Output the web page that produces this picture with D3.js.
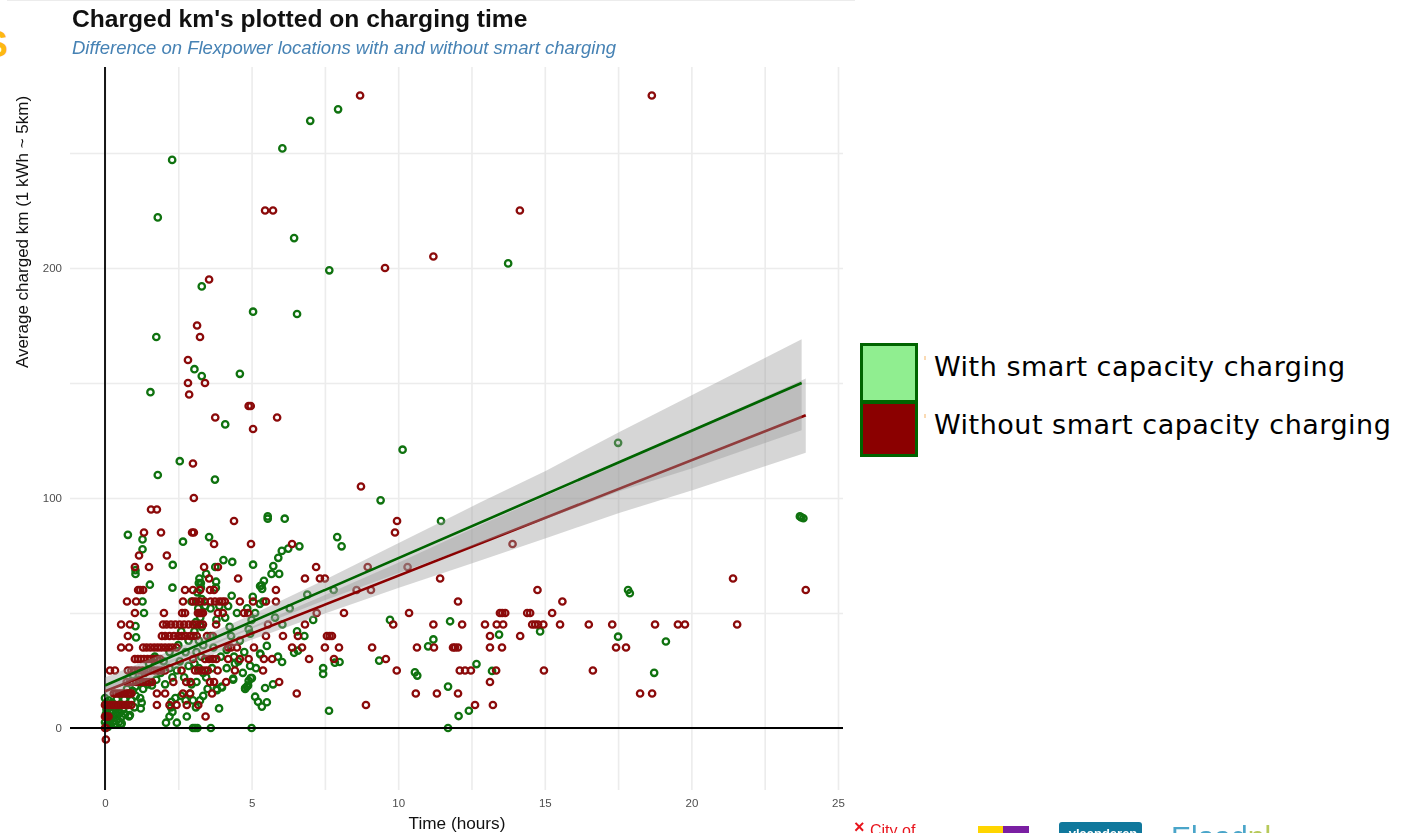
<!DOCTYPE html>
<html>
<head>
<meta charset="utf-8">
<script src="https://cdn.jsdelivr.net/npm/d3@7"></script>
<style>
    html, body { margin: 0; padding: 0; background: #fff; overflow: hidden; }
    svg { display: block; }
    .tick text { font-family: "Liberation Sans", Arial, sans-serif; font-size: 11.5px; fill: #4d4d4d; }
</style>
</head>
<body>
<svg id="chart" width="1404" height="833"></svg>
<script>
const titleText = "Charged km's plotted on charging time";
const subtitleText = "Difference on Flexpower locations with and without smart charging";
const xLabel = "Time (hours)";
const yLabel = "Average charged km (1 kWh ~ 5km)";
const legendLabels = ["With smart capacity charging", "Without smart capacity charging"];

const xTicks = [0, 5, 10, 15, 20, 25];
const yTicks = [0, 100, 200];
const xGrid = [0, 2.5, 5, 7.5, 10, 12.5, 15, 17.5, 20, 22.5, 25];
const yGrid = [0, 50, 100, 150, 200, 250];

// [hours, km]
const greenPoints = [
    [2.29,247],[1.8,222],[6.05,252],[7.0,264],[7.95,269],[6.45,213],[7.65,199],[13.75,202],[3.3,192],[5.05,181],
    [6.55,180],[1.75,170],[3.05,156],[3.3,153],[4.6,154],[1.55,146],[4.1,132],[10.15,121],[17.5,124],[2.55,116],
    [1.8,110],[3.75,108],[9.4,99],[11.46,90],[5.55,92],[5.55,91],[6.13,91],[23.7,92],[23.75,91.6],[23.82,91.2],
    [0.78,84],[1.28,82],[1.28,77.7],[1.04,68.6],[1.04,67],[1.53,62.3],[2.31,70.9],[2.3,61],[1.28,55],[1.33,50],
    [1.04,44.3],[1.06,39.4],[2.66,81],[3.55,83],[4.04,73],[4.34,72.2],[3.76,70],[5.05,71],[7.92,83],[8.07,79],
    [6.63,79],[6.25,78],[6.03,77],[5.91,74],[5.74,70.4],[5.68,67],[5.94,67],[5.42,64],[5.34,62],[5.29,61.7],
    [5.36,60.5],[3.27,63],[3.22,65],[3.79,63.6],[3.78,61],[4.32,57.5],[5.04,57],[4.2,53],[4.5,50],[4.85,52],
    [5.28,54],[5.12,50],[7.44,26],[7.44,23.5],[7.84,28.4],[6.45,32.7],[6.58,33.6],[5.9,31],[6.04,28.7],[5.29,32.4],
    [5.52,35.7],[5.01,21.7],[5.46,17.4],[5.73,19],[4.78,17.4],[4.84,18],[4.9,20.5],[5.12,13.6],[5.22,11.4],[5.35,9.3],
    [5.52,11.2],[5.0,0],[3.89,8.5],[4.37,21],[3.99,17.6],[3.82,16.5],[3.0,0],[3.07,0],[3.15,0],[3.61,0],
    [2.45,2.3],[2.08,2.3],[2.79,5],[2.2,5],[2.3,7],[2.27,11.4],[2.25,9],[2.4,13],[0.82,5],[0.54,1.5],
    [7.64,7.5],[9.72,47],[11.77,46.4],[11.2,38.5],[11.02,35.5],[13.44,40.6],[14.84,42],[17.5,39.7],[19.13,37.6],[17.84,60],
    [17.9,58.6],[9.35,29.3],[10.57,24.2],[10.65,22.8],[12.67,27.8],[13.2,24.8],[18.73,24],[11.7,18],[12.06,5.2],[12.41,7.5],
    [11.7,0],[8.0,28.7],[6.8,40],[7.1,47],[7.8,60],[6.3,52],[6.9,58],
    [0,13],[0.02,10.5],[0.05,8],[0.03,6],[0.08,4],[0,2.5],[0.04,1],[0.1,0.5],[0.12,12],[0.15,9],
    [0.18,6.5],[0.16,3.5],[0.2,1.5],[0.24,11],[0.27,7.5],[0.25,5],[0.3,3],[0.33,1.8],[0.34,9],[0.38,6],
    [0.4,12.5],[0.42,4],[0.46,8],[0.48,2.6],[0.5,6.5],[0.54,10],[0.57,2],[0.58,5],[0.62,8],[0.66,12.5],
    [0.68,6],[0.72,10],[0.8,15],[0.85,5.6],[0.9,12],[0.95,16],[1.0,9],[1.04,18],[1.2,13],[1.25,11],
    [1.22,8.5],[1.05,14],[0.75,17],[1.3,17],[1.45,19],[1.6,18.5],[1.75,21],[1.9,24],[2.05,19],[2.2,26],
    [2.3,22],[2.45,25],[1.15,21],[0.95,23],[1.35,24],[1.5,28],[1.7,31],[2.0,29],[2.6,14],[2.75,12],
    [2.9,15],[3.0,12],[3.24,12],[3.1,9],[3.35,14],[3.5,17],[2.95,19],[2.7,22],[2.85,27],[2.55,29],
    [3.05,28],[3.2,26],[3.35,24],[3.12,20],[3.45,22],[3.65,26],[3.81,17],[3.98,18],[4.15,26],[4.43,28],
    [4.37,21.5],[4.78,17],[4.88,18.5],[4.97,21.7],[3.2,63],[3.27,61],[3.15,59],[3.3,56],[3.18,52],[3.25,48],
    [3.1,46],[3.3,44],[3.05,42],[3.2,38],[3.35,36],[3.12,33],[3.28,31],[3.42,53],[3.6,52],[3.9,53],
    [4.1,48],[3.8,47],[4.25,44],[4.3,40],[4.6,38],[4.9,43],[5.0,47],[5.4,55],[4.95,41],[4.4,31],
    [4.55,29],[4.75,33],[4.95,27],[4.7,24],[5.15,26],[5.3,32],[3.7,35],[3.95,31],[4.15,34],[3.6,40],
    [2.75,33],[2.5,36],[2.2,33],[2.85,38],[2.6,42],[3.45,67],[2.95,55],[6.55,42],[6.05,45],[5.8,48]
];

const redPoints = [
    [8.7,275],[18.65,275],[5.46,225],[5.73,225],[14.15,225],[9.55,200],[11.2,205],[3.55,195],[3.14,175],[3.24,170],
    [2.83,160],[2.83,150],[3.41,150],[2.87,145],[4.9,140],[4.97,140],[3.76,135],[5.87,135],[5.05,130],[3.0,115],
    [8.73,105],[3.03,100],[1.57,95],[1.77,95],[9.96,90],[4.4,90],[9.89,85],[1.33,85],[1.91,85],[2.97,85],[3.03,85],
    [13.9,80],[3.72,80],[4.98,80],[6.38,80],[1.16,75],[2.11,75],
    [1.02,70],[1.5,70],[3.38,70],[3.85,70],[7.2,70],[8.96,70],[10.32,70],
    [3.55,65],[4.54,65],[6.82,65],[7.33,65],[7.5,65],[11.43,65],[21.42,65],
    [1.13,60],[1.2,60],[1.3,60],[2.73,60],[3.0,60],[3.24,60],[3.58,60],[3.72,60],[5.83,60],[8.58,60],[9.07,60],[14.75,60],[23.9,60],
    [0.75,55],[1.06,55],[2.66,55],[3.0,55],[3.1,55],[3.24,55],[3.4,55],[3.6,55],[3.75,55],[3.9,55],[4.0,55],[4.09,55],[4.6,55],[5.05,55],[5.49,55],[5.83,55],[12.04,55],[15.6,55],
    [1.02,50],[2.01,50],[2.63,50],[2.73,50],[3.17,50],[3.22,50],[3.28,50],[3.34,50],[3.85,50],[4.02,50],[4.74,50],[4.88,50],[7.22,50],[8.15,50],[10.37,50],[13.47,50],[13.55,50],[13.65,50],[14.4,50],[14.5,50],[15.25,50],
    [0.55,45],[0.85,45],[1.98,45],[2.1,45],[2.25,45],[2.4,45],[2.55,45],[2.7,45],[2.85,45],[3.0,45],[3.12,45],[3.25,45],[3.34,45],[3.79,45],[5.56,45],[6.82,45],[9.83,45],[11.2,45],[12.18,45],[12.96,45],[13.36,45],[13.58,45],[14.57,45],[14.67,45],[14.77,45],[14.95,45],[15.52,45],[16.5,45],[17.3,45],[18.76,45],[19.54,45],[19.78,45],[21.56,45],
    [0.78,40],[1.94,40],[2.05,40],[2.2,40],[2.35,40],[2.5,40],[2.62,40],[2.75,40],[2.9,40],[3.02,40],[3.13,40],[3.48,40],[3.68,40],[5.49,40],[6.07,40],[6.58,40],[7.57,40],[7.66,40],[7.74,40],[13.13,40],[14.16,40],
    [0.55,35],[0.82,35],[1.3,35],[1.42,35],[1.55,35],[1.68,35],[1.8,35],[1.92,35],[2.05,35],[2.18,35],[2.3,35],[2.44,35],[4.2,35],[4.3,35],[4.5,35],[5.08,35],[6.38,35],[6.72,35],[7.5,35],[7.98,35],[9.11,35],[10.64,35],[11.22,35],[11.87,35],[11.94,35],[12.04,35],[13.13,35],[13.54,35],[17.43,35],[17.77,35],
    [1.02,30],[1.12,30],[1.22,30],[1.33,30],[1.45,30],[1.56,30],[1.68,30],[1.78,30],[1.88,30],[3.0,30],[3.41,30],[3.55,30],[3.68,30],[3.8,30],[4.2,30],[4.6,30],[4.9,30],[5.42,30],[5.7,30],[6.96,30],[7.81,30],[9.58,30],
    [0.17,25],[0.34,25],[0.78,25],[0.9,25],[1.02,25],[1.15,25],[1.28,25],[1.42,25],[1.55,25],[1.68,25],[1.8,25],[1.92,25],[2.05,25],[2.61,25],[3.07,25],[3.18,25],[3.3,25],[3.41,25],[3.51,25],[3.84,25],[4.43,25],[5.39,25],[9.95,25],[12.1,25],[12.28,25],[12.48,25],[13.34,25],[14.97,25],[16.64,25],
    [0.74,20],[0.85,20],[0.96,20],[1.07,20],[1.18,20],[1.3,20],[1.42,20],[1.52,20],[1.6,20],[2.33,20],[2.77,20],[2.92,20],[3.58,20],[3.72,20],[4.13,20],[5.94,20],[13.13,20],
    [0.3,15],[0.38,15],[0.46,15],[0.54,15],[0.62,15],[0.7,15],[0.78,15],[0.86,15],[0.9,15],[1.77,15],[2.05,15],[2.66,15],[2.9,15],[3.65,15],[6.54,15],[10.6,15],[11.32,15],[12.04,15],[18.25,15],[18.66,15],
    [0,10],[0.08,10],[0.16,10],[0.24,10],[0.32,10],[0.4,10],[0.48,10],[0.56,10],[0.64,10],[0.72,10],[0.8,10],[0.9,10],[1.77,10],[2.2,10],[2.44,10],[2.79,10],[3.18,10],[8.9,10],[12.62,10],[13.23,10],
    [0,5],[0.06,5],[0.12,5],[3.43,5],[0,0],[0.03,0],[0.03,-5]
];

// regression lines, two ends each
const greenLineX = [0, 23.76];
const greenLineY = [18.5, 150];
const redLineX = [0, 23.9];
const redLineY = [16, 136];

// confidence bands read at a few hours along the lines
const greenBandX = [0, 2.5, 5, 7.5, 10, 12.79, 15.06, 17.56, 20.06, 23.76];
const greenBandLo = [15, 29.8, 43.2, 55.5, 67.3, 80.3, 91, 103, 113, 129.5];
const greenBandHi = [22, 35, 49.2, 64.5, 80.3, 98, 112, 128.8, 145, 169];
const redBandX = [0, 2.5, 5, 7.5, 10, 12.5, 15.06, 17.56, 20.06, 23.9];
const redBandLo = [13, 26.3, 38.4, 49.8, 60.9, 71.5, 82.6, 93.6, 103.5, 119.7];
const redBandHi = [19, 30.9, 44, 57.8, 71.9, 86.5, 101, 115, 130, 152];

const CHART = {left: 70, right: 843, top: 67, bottom: 790};

const svg = d3.select('#chart');

const xScale = d3.scaleLinear().domain([0, 25]).range([105, 838]);
const yScale = d3.scaleLinear().domain([0, 200]).range([728, 268]);

// page furniture cut off at the edges of the screenshot
svg.append('rect').attr('x', 7).attr('y', 0).attr('width', 848).attr('height', 1).attr('fill', '#ececec');
svg.append('text').text('S')
    .attr('x', -16).attr('y', 57)
    .attr('font-family', 'Liberation Sans').attr('font-weight', 'bold').attr('font-size', 36)
    .attr('fill', '#fdb813');

const plot = svg.append('g').style('filter', 'blur(0.6px)');

// grid
plot.append('g')
    .attr('transform', `translate(0, ${CHART.bottom})`)
    .call(d3.axisBottom(xScale).tickValues(xGrid).tickSize(CHART.bottom - CHART.top).tickSizeOuter(0).tickFormat(''))
    .call(g => g.select('.domain').remove())
    .call(g => g.selectAll('line').attr('stroke', '#ececec').attr('stroke-width', 1.6).attr('transform', `translate(0, ${-(CHART.bottom - CHART.top)})`));
plot.append('g')
    .attr('transform', `translate(${CHART.left}, 0)`)
    .call(d3.axisRight(yScale).tickValues(yGrid).tickSize(CHART.right - CHART.left).tickSizeOuter(0).tickFormat(''))
    .call(g => g.select('.domain').remove())
    .call(g => g.selectAll('line').attr('stroke', '#ececec').attr('stroke-width', 1.6));

// tick labels
plot.append('g')
    .attr('transform', `translate(0, 795)`)
    .call(d3.axisBottom(xScale).tickValues(xTicks).tickSize(0).tickPadding(4))
    .call(g => g.select('.domain').remove());
plot.append('g')
    .attr('transform', `translate(66, 0)`)
    .call(d3.axisLeft(yScale).tickValues(yTicks).tickSize(0).tickPadding(4))
    .call(g => g.select('.domain').remove());

// points
plot.append('g').selectAll('circle')
    .data(greenPoints)
    .join('circle')
    .attr('cx', d => xScale(d[0]))
    .attr('cy', d => yScale(d[1]))
    .attr('r', 3.2)
    .attr('fill', 'none')
    .attr('stroke', '#0f720f')
    .attr('stroke-width', 2.3);
plot.append('g').selectAll('circle')
    .data(redPoints)
    .join('circle')
    .attr('cx', d => xScale(d[0]))
    .attr('cy', d => yScale(d[1]))
    .attr('r', 3.2)
    .attr('fill', 'none')
    .attr('stroke', '#8b0a0a')
    .attr('stroke-width', 2.3);

// zero lines
plot.append('line')
    .attr('x1', CHART.left).attr('x2', CHART.right)
    .attr('y1', yScale(0)).attr('y2', yScale(0))
    .attr('stroke', '#000').attr('stroke-width', 1.8);
plot.append('line')
    .attr('x1', xScale(0)).attr('x2', xScale(0))
    .attr('y1', CHART.top).attr('y2', CHART.bottom)
    .attr('stroke', '#000').attr('stroke-width', 1.8);

// regression bands and lines
function drawBand(xs, los, his) {
    let area = d3.area()
        .x((d, i) => xScale(xs[i]))
        .y0((d, i) => yScale(los[i]))
        .y1((d, i) => yScale(his[i]));
    plot.append('path').attr('d', area(xs)).attr('fill', '#999').attr('fill-opacity', 0.4);
}
function drawLine(xs, ys, color) {
    let line = d3.line()
        .x((d, i) => xScale(xs[i]))
        .y((d, i) => yScale(ys[i]));
    plot.append('path').attr('d', line(xs)).attr('fill', 'none').attr('stroke', color).attr('stroke-width', 2.6);
}
drawBand(redBandX, redBandLo, redBandHi);
drawLine(redLineX, redLineY, '#8b0000');
drawBand(greenBandX, greenBandLo, greenBandHi);
drawLine(greenLineX, greenLineY, '#006400');

// titles
plot.append('text').text(titleText)
    .attr('x', 72).attr('y', 27)
    .attr('font-family', 'Liberation Sans').attr('font-weight', 'bold').attr('font-size', 24.6)
    .attr('fill', '#111');
plot.append('text').text(subtitleText)
    .attr('x', 72).attr('y', 54)
    .attr('font-family', 'Liberation Sans').attr('font-style', 'italic').attr('font-size', 18.5)
    .attr('fill', '#4682b4');
plot.append('text').text(xLabel)
    .attr('x', 457).attr('y', 829)
    .attr('text-anchor', 'middle')
    .attr('font-family', 'Liberation Sans').attr('font-size', 17.2)
    .attr('fill', '#111');
plot.append('text').text(yLabel)
    .attr('transform', 'translate(28, 232) rotate(-90)')
    .attr('text-anchor', 'middle')
    .attr('font-family', 'Liberation Sans').attr('font-size', 17)
    .attr('fill', '#111');

// legend
svg.append('rect').attr('x', 861.5).attr('y', 344.5).attr('width', 55).attr('height', 57)
    .attr('fill', '#90ee90').attr('stroke', '#006400').attr('stroke-width', 3);
svg.append('rect').attr('x', 861.5).attr('y', 402.5).attr('width', 55).attr('height', 53)
    .attr('fill', '#8b0000').attr('stroke', '#006400').attr('stroke-width', 3);
svg.selectAll('.legend-label')
    .data(legendLabels)
    .join('text')
    .attr('class', 'legend-label')
    .text(d => d)
    .attr('x', 934)
    .attr('y', (d, i) => 376 + i * 58)
    .attr('font-family', 'DejaVu Sans')
    .attr('font-size', 27)
    .attr('letter-spacing', 0.5)
    .attr('fill', '#000');
svg.selectAll('.legend-tick')
    .data(legendLabels)
    .join('rect')
    .attr('class', 'legend-tick')
    .attr('x', 924.5)
    .attr('y', (d, i) => 356 + i * 58)
    .attr('width', 1)
    .attr('height', 4)
    .attr('fill', '#f5b66b');

// partner logos at the bottom edge
const logos = svg.append('g').style('filter', 'blur(0.4px)');
logos.append('text').text('×').attr('x', 854).attr('y', 833)
    .attr('font-family', 'Liberation Sans').attr('font-weight', 'bold').attr('font-size', 18).attr('fill', '#e8141c');
logos.append('text').text('City of').attr('x', 870).attr('y', 836)
    .attr('font-family', 'Liberation Sans').attr('font-size', 16).attr('fill', '#e8141c');
logos.append('rect').attr('x', 978).attr('y', 826).attr('width', 25).attr('height', 7).attr('fill', '#ffd500');
logos.append('rect').attr('x', 1003).attr('y', 826).attr('width', 26).attr('height', 7).attr('fill', '#7a1fa2');
logos.append('path').attr('d', 'M1059,833V825a3,3 0 0 1 3,-3H1139a3,3 0 0 1 3,3V833Z').attr('fill', '#10789c');
logos.append('text').text('vlaanderen').attr('x', 1103).attr('y', 838).attr('text-anchor', 'middle')
    .attr('font-family', 'Liberation Sans').attr('font-weight', 'bold').attr('font-size', 13).attr('fill', '#fff');
logos.append('text').attr('x', 1171).attr('y', 847)
    .attr('font-family', 'Liberation Sans').attr('font-size', 30).attr('fill', '#4aa5c9')
    .text('Elaad')
    .append('tspan').text('nl').attr('fill', '#b7c95a');
</script>
</body>
</html>
